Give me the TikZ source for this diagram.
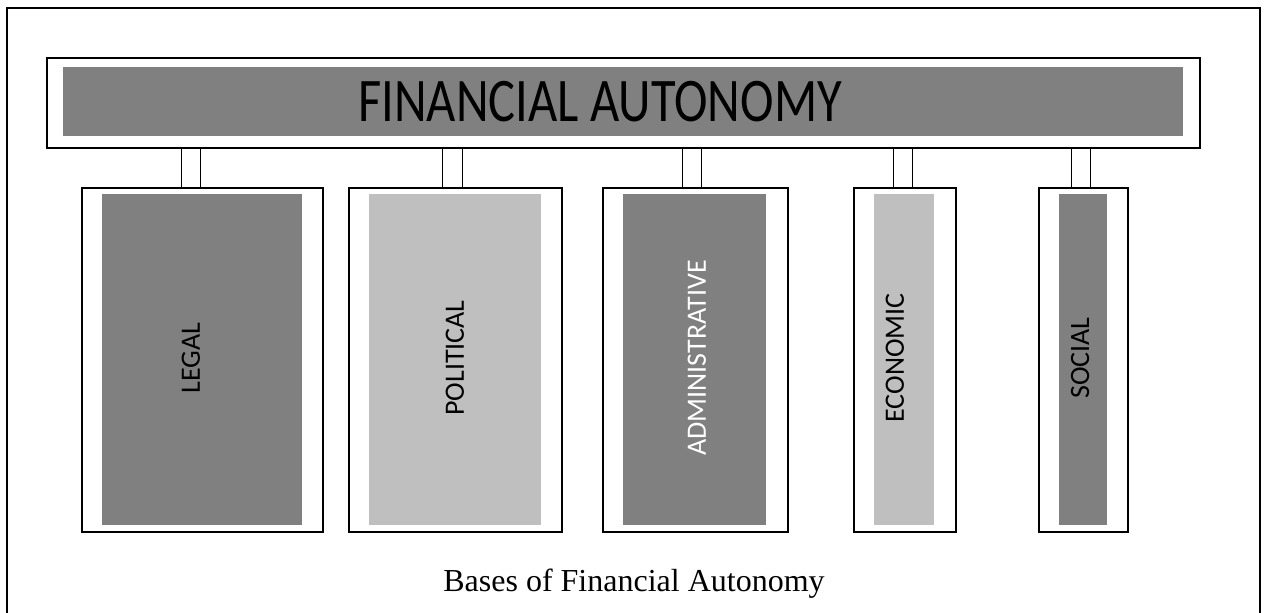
\documentclass[tikz,border=0pt]{standalone}
\usepackage{fontspec}
\newfontfamily\labelfont{Carlito}
\newfontfamily\captionfont{Liberation Serif}
\definecolor{darkfill}{HTML}{808080}
\definecolor{lightfill}{HTML}{BFBFBF}
\begin{document}
\begin{tikzpicture}[x=1pt,y=-1pt,
  frame/.style={draw=black,line width=1.6pt,inner sep=0pt,anchor=north west},
  panel/.style={fill=#1,draw=none,inner sep=0pt,anchor=north west},
  post/.style={draw=black,line width=1pt},
  sidelabel/.style={rotate=90,font=\labelfont\fontsize{28}{28}\selectfont,inner sep=0pt}]
\useasboundingbox (0,0) rectangle (1267,613);
\fill[white] (0,0) rectangle (1267,613);
% page frame, open at the bottom
\draw[line width=1.6pt] (7,620) -- (7,8) -- (1260,8) -- (1260,620);

% banner
\node[frame,minimum width=1153pt,minimum height=90pt] (banner) at (46,57) {};
\node[panel=darkfill,minimum width=1120pt,minimum height=69pt] (bannerin) at (63,67) {};
\node[font=\labelfont\fontsize{62}{62}\selectfont,inner sep=0pt] (title) at (600,101.5)
  {\scalebox{0.815}[1]{FINANCIAL AUTONOMY}};

% column boxes: outer frame, inner panel
\node[frame,minimum width=241pt,minimum height=344pt] (legal) at (81,187) {};
\node[panel=darkfill,minimum width=200pt,minimum height=331pt] (legalin) at (102,194) {};
\node[frame,minimum width=213pt,minimum height=344pt] (political) at (348,187) {};
\node[panel=lightfill,minimum width=172pt,minimum height=331pt] (politicalin) at (369,194) {};
\node[frame,minimum width=185pt,minimum height=344pt] (admin) at (602,187) {};
\node[panel=darkfill,minimum width=143pt,minimum height=331pt] (adminin) at (623,194) {};
\node[frame,minimum width=102pt,minimum height=344pt] (economic) at (853,187) {};
\node[panel=lightfill,minimum width=60pt,minimum height=331pt] (economicin) at (874,194) {};
\node[frame,minimum width=89pt,minimum height=344pt] (social) at (1038,187) {};
\node[panel=darkfill,minimum width=48pt,minimum height=331pt] (socialin) at (1059,194) {};

% labels
\node[sidelabel] (legaltext) at (191,358) {LEGAL};
\node[sidelabel] (politicaltext) at (455,358) {POLITICAL};
\node[sidelabel,text=white] (admintext) at (697,358) {ADMINISTRATIVE};
\node[sidelabel] (economictext) at (895,358) {ECONOMIC};
\node[sidelabel] (socialtext) at (1080,358) {SOCIAL};

% posts joining the banner to each box
\foreach \col/\xa/\xb in {legal/181/200,political/442/462,admin/682/701,economic/893/912,social/1071/1090}{
  \draw[post] (banner.south -| \xa,0) -- (\col.north -| \xa,0);
  \draw[post] (banner.south -| \xb,0) -- (\col.north -| \xb,0);
}

% caption
\node[font=\captionfont\fontsize{32}{32}\selectfont,anchor=base,inner sep=0pt] (caption) at (634,591)
  {Bases of Financial Autonomy};
\end{tikzpicture}
\end{document}
